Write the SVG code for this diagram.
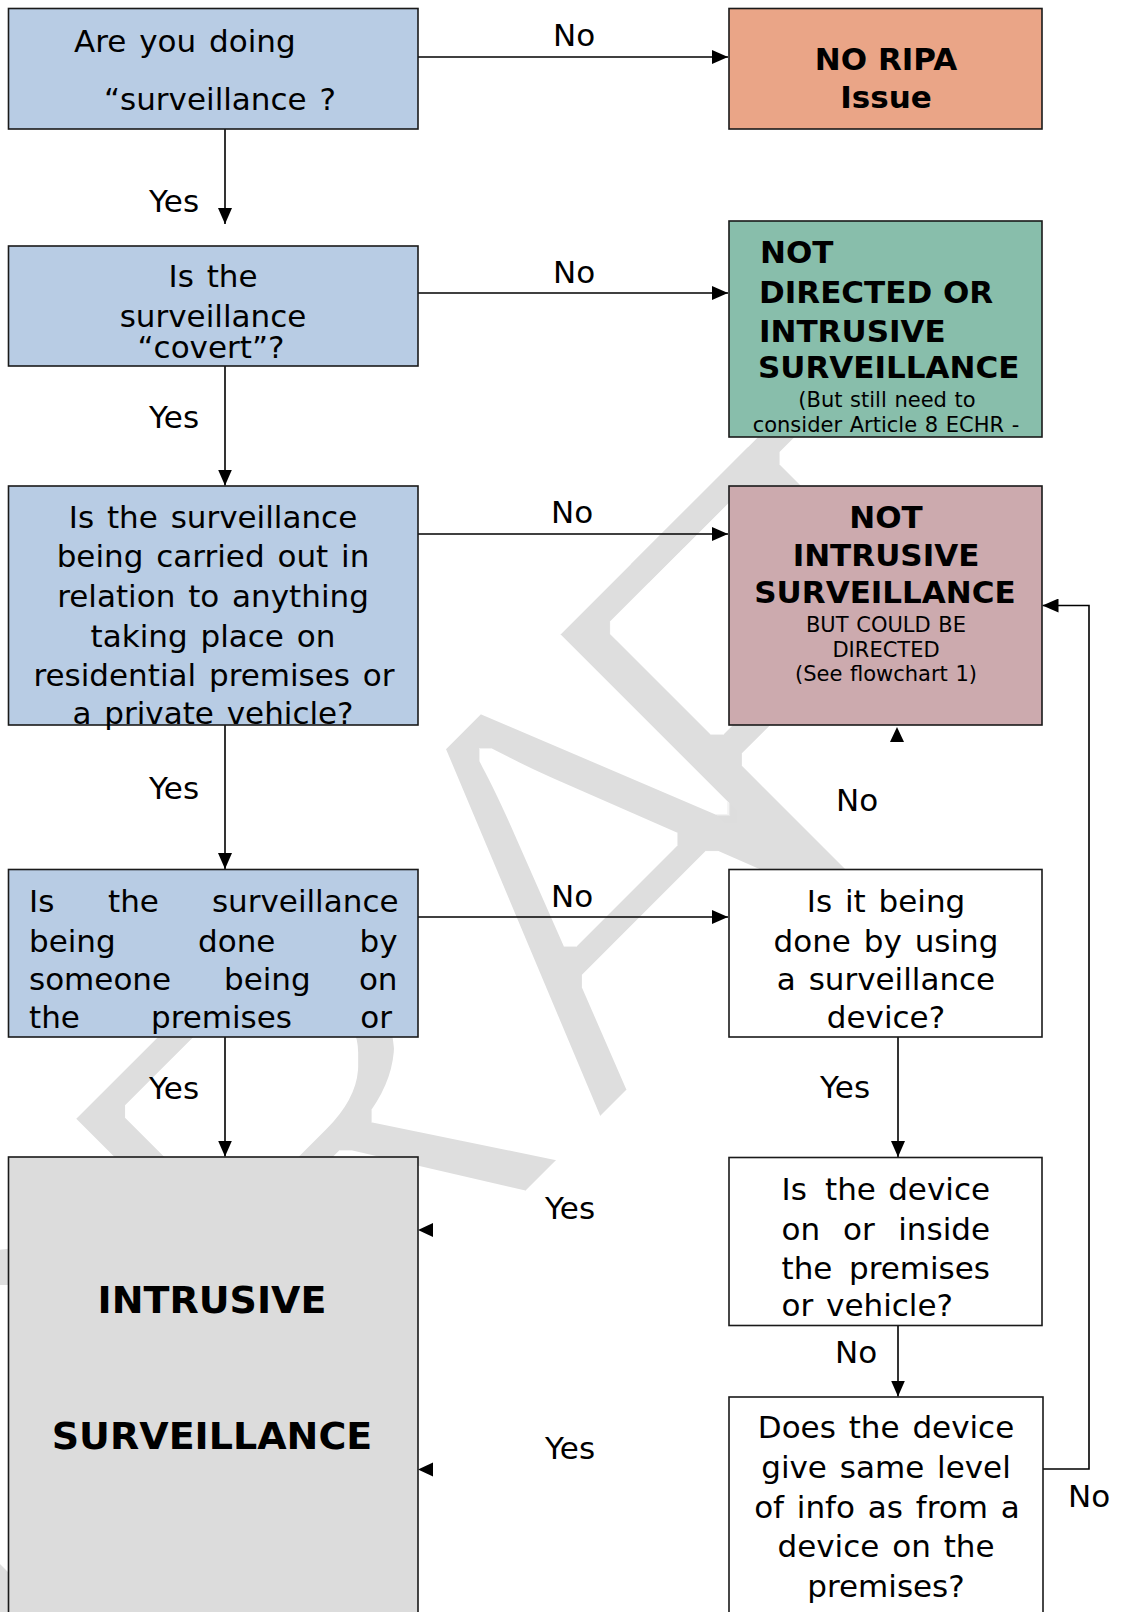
<svg xmlns="http://www.w3.org/2000/svg" width="1128" height="1612" viewBox="0 0 1128 1612">
  <defs>
    <marker id="arr" markerUnits="userSpaceOnUse" markerWidth="16" markerHeight="14" refX="16" refY="7" orient="auto">
      <path d="M0,0 L16,7 L0,14 z" fill="#000"/>
    </marker>
    <!-- free-standing arrowhead, tip at the origin, pointing right -->
    <path id="head" d="M0,0 L-15,-7 L-15,7 z" fill="#000"/>
    <!-- thins the watermark letters as one shape, so overlapping glyphs merge cleanly -->
    <filter id="thin" filterUnits="userSpaceOnUse" x="0" y="0" width="1128" height="1612">
      <feMorphology operator="erode" radius="6"/>
    </filter>
  </defs>
  <style>
    .box{stroke:#1a1a1a;stroke-width:1.6}
    .q{fill:#b8cce4}
    .t{font-family:"DejaVu Sans",Verdana,sans-serif;font-size:31px;word-spacing:3px;fill:#000}
    .c{text-anchor:middle}
    .e{text-anchor:end}
    .b{font-weight:bold;word-spacing:0}
    .s{font-size:21px;word-spacing:1px}
    .ln{fill:none;stroke:#000;stroke-width:1.6}
    .wm{font-family:"Liberation Sans",Arial,sans-serif;font-size:560px;fill:#dedede}
  </style>

  <rect width="1128" height="1612" fill="#fff"/>

  <!-- watermark behind everything -->
  <g id="watermark" filter="url(#thin)">
    <text class="wm" transform="translate(728.5,999.5) rotate(-45)" x="-1004 -600 -186 85 226" y="0">DRAFT</text>
  </g>

  <!-- connectors -->
  <g id="connectors">
    <path class="ln" d="M418,57 H728" marker-end="url(#arr)"/>
    <path class="ln" d="M225,129 V224" marker-end="url(#arr)"/>
    <path class="ln" d="M418,293 H728" marker-end="url(#arr)"/>
    <path class="ln" d="M225,366 V485.5" marker-end="url(#arr)"/>
    <path class="ln" d="M418,534 H728" marker-end="url(#arr)"/>
    <path class="ln" d="M225,725 V869" marker-end="url(#arr)"/>
    <path class="ln" d="M418,917 H728" marker-end="url(#arr)"/>
    <path class="ln" d="M225,1037 V1156.5" marker-end="url(#arr)"/>
    <path class="ln" d="M898,1037 V1157" marker-end="url(#arr)"/>
    <path class="ln" d="M898,1326 V1396.5" marker-end="url(#arr)"/>
    <path class="ln" d="M1043,1469 H1089 V605.5 H1042.5" marker-end="url(#arr)"/>
    <use href="#head" transform="translate(897,727) rotate(-90)"/>
    <use href="#head" transform="translate(418,1230) rotate(180)"/>
    <use href="#head" transform="translate(418,1469.5) rotate(180)"/>

    <text class="t" x="553" y="46">No</text>
    <text class="t" x="149" y="212">Yes</text>
    <text class="t" x="553" y="283">No</text>
    <text class="t" x="149" y="428">Yes</text>
    <text class="t" x="551" y="523">No</text>
    <text class="t" x="149" y="799">Yes</text>
    <text class="t" x="836" y="811">No</text>
    <text class="t" x="551" y="907">No</text>
    <text class="t" x="149" y="1099">Yes</text>
    <text class="t" x="820" y="1098">Yes</text>
    <text class="t" x="545" y="1219">Yes</text>
    <text class="t" x="835" y="1363">No</text>
    <text class="t" x="545" y="1459">Yes</text>
    <text class="t" x="1068" y="1507">No</text>
  </g>

  <g id="q-surveillance">
    <rect class="box q" x="8.5" y="8.5" width="409.5" height="120.5"/>
    <text class="t" x="74" y="52">Are you doing</text>
    <text class="t" x="104" y="110">“surveillance ?</text>
  </g>

  <g id="no-ripa">
    <rect class="box" x="729" y="8.5" width="313" height="120.5" fill="#eaa587"/>
    <text class="t b c" x="886" y="70">NO RIPA</text>
    <text class="t b c" x="886" y="108">Issue</text>
  </g>

  <g id="q-covert">
    <rect class="box q" x="8.5" y="246" width="409.5" height="120"/>
    <text class="t c" x="213" y="287">Is the</text>
    <text class="t c" x="213" y="327">surveillance</text>
    <text class="t c" x="211" y="358">“covert”?</text>
  </g>

  <g id="not-directed">
    <rect class="box" x="729" y="221" width="313" height="216" fill="#88beab"/>
    <text class="t b" x="760" y="263">NOT</text>
    <text class="t b" x="759" y="303">DIRECTED OR</text>
    <text class="t b" x="759" y="342">INTRUSIVE</text>
    <text class="t b" x="758" y="378">SURVEILLANCE</text>
    <text class="t s c" x="887" y="407">(But still need to</text>
    <text class="t s c" x="886" y="432">consider Article 8 ECHR -</text>
  </g>

  <g id="q-residential">
    <rect class="box q" x="8.5" y="486" width="409.5" height="239"/>
    <text class="t c" x="213" y="528">Is the surveillance</text>
    <text class="t c" x="213" y="567">being carried out in</text>
    <text class="t c" x="213" y="606.5">relation to anything</text>
    <text class="t c" x="213" y="646.5">taking place on</text>
    <text class="t c" x="214" y="685.5">residential premises or</text>
    <text class="t c" x="213" y="724">a private vehicle?</text>
  </g>

  <g id="not-intrusive">
    <rect class="box" x="729" y="486" width="313" height="239" fill="#ccaaae"/>
    <text class="t b c" x="886" y="528">NOT</text>
    <text class="t b c" x="886" y="566">INTRUSIVE</text>
    <text class="t b c" x="885" y="603">SURVEILLANCE</text>
    <text class="t s c" x="886" y="632">BUT COULD BE</text>
    <text class="t s c" x="886" y="657">DIRECTED</text>
    <text class="t s c" x="886" y="681">(See flowchart 1)</text>
  </g>

  <g id="q-on-premises">
    <rect class="box q" x="8.5" y="869.5" width="409.5" height="167.5"/>
    <text class="t" x="29" y="911.5">Is</text>
    <text class="t" x="108" y="911.5">the</text>
    <text class="t e" x="398.5" y="911.5">surveillance</text>
    <text class="t" x="29" y="951.5">being</text>
    <text class="t" x="198" y="951.5">done</text>
    <text class="t e" x="397.5" y="951.5">by</text>
    <text class="t" x="29" y="990">someone</text>
    <text class="t" x="224" y="990">being</text>
    <text class="t e" x="397.5" y="990">on</text>
    <text class="t" x="29" y="1028">the</text>
    <text class="t" x="151" y="1028">premises</text>
    <text class="t e" x="392" y="1028">or</text>
  </g>

  <g id="q-device">
    <rect class="box" x="729" y="869.5" width="313" height="167.5" fill="#fff"/>
    <text class="t c" x="886" y="911.5">Is it being</text>
    <text class="t c" x="886" y="951.5">done by using</text>
    <text class="t c" x="886" y="990">a surveillance</text>
    <text class="t c" x="886" y="1028">device?</text>
  </g>

  <g id="intrusive">
    <rect class="box" x="8.5" y="1157" width="409.5" height="470" fill="#dcdcdc"/>
    <text class="t b c" x="212" y="1313" style="font-size:38px">INTRUSIVE</text>
    <text class="t b c" x="212" y="1449" style="font-size:38px">SURVEILLANCE</text>
  </g>

  <g id="q-device-inside">
    <rect class="box" x="729" y="1157.5" width="313" height="168" fill="#fff"/>
    <text class="t" x="781.5" y="1199.5">Is</text>
    <text class="t" x="825" y="1199.5">the</text>
    <text class="t e" x="990" y="1199.5">device</text>
    <text class="t" x="781.5" y="1240">on</text>
    <text class="t" x="843" y="1240">or</text>
    <text class="t e" x="990" y="1240">inside</text>
    <text class="t" x="781.5" y="1279">the</text>
    <text class="t e" x="990" y="1279">premises</text>
    <text class="t" x="781.5" y="1315.5">or vehicle?</text>
  </g>

  <g id="q-same-info">
    <rect class="box" x="729" y="1397" width="314" height="230" fill="#fff"/>
    <text class="t c" x="886" y="1437.5">Does the device</text>
    <text class="t c" x="886" y="1478">give same level</text>
    <text class="t c" x="887" y="1518">of info as from a</text>
    <text class="t c" x="886" y="1557">device on the</text>
    <text class="t c" x="886" y="1596.5">premises?</text>
  </g>
</svg>
